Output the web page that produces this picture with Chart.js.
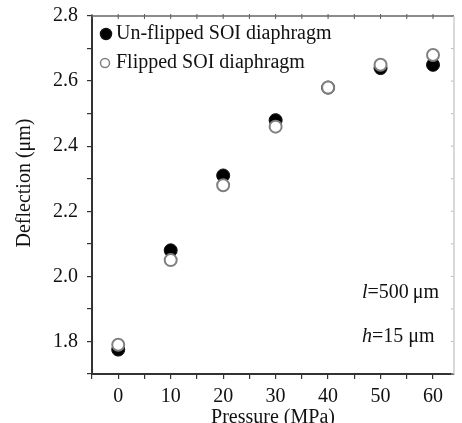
<!DOCTYPE html>
<html>
<head>
<meta charset="utf-8">
<script src="https://cdn.jsdelivr.net/npm/chart.js@4.4.0/dist/chart.umd.min.js"></script>
<style>
  html, body { margin: 0; padding: 0; background: #fff; overflow: hidden; }
  #wrap { position: relative; width: 462px; height: 423px; }
</style>
</head>
<body>
<div id="wrap"><canvas id="chart" width="462" height="423"></canvas></div>
<script>
const pressure = [0, 10, 20, 30, 40, 50, 60];
const unflipped = [1.775, 2.08, 2.31, 2.48, 2.58, 2.64, 2.65];
const flipped = [1.79, 2.05, 2.28, 2.46, 2.58, 2.65, 2.68];
const seriesLabels = ['Un-flipped SOI diaphragm', 'Flipped SOI diaphragm'];
const notes = [['l', '=500\u2009\u03bcm'], ['h', '=15 \u03bcm']];
const yTitle = 'Deflection (\u03bcm)';

const serif = 'Liberation Serif';
Chart.defaults.font.family = serif;
const toPoints = (ys) => pressure.map((x, i) => ({ x: x, y: ys[i] }));

// legend drawn inside the plot, top left, plus notes and frame
const insideLegend = {
  id: 'insideLegend',
  afterDraw(chart) {
    const ctx = chart.ctx;
    const a = chart.chartArea;
    ctx.save();
    ctx.font = '20px ' + serif;
    ctx.textBaseline = 'middle';
    ctx.fillStyle = '#111';
    const rows = [
      { ds: chart.data.datasets[1], x: a.left + 14, y: a.top + 18, r: 5.5 },
      { ds: chart.data.datasets[0], x: a.left + 13, y: a.top + 47, r: 4.5 }
    ];
    rows.forEach(row => {
      ctx.beginPath();
      ctx.arc(row.x, row.y, row.r, 0, Math.PI * 2);
      ctx.fillStyle = row.ds.backgroundColor;
      ctx.fill();
      ctx.lineWidth = 1.5;
      ctx.strokeStyle = row.ds.borderColor;
      ctx.stroke();
      ctx.fillStyle = '#111';
      ctx.fillText(row.ds.label, a.left + 24, row.y);
    });
    // l and h notes, bottom right
    notes.forEach((n, i) => {
      const x = a.left + 270;
      const y = a.top + 277 + i * 44;
      ctx.font = 'italic 20px ' + serif;
      ctx.fillText(n[0], x, y);
      const w = ctx.measureText(n[0]).width;
      ctx.font = '20px ' + serif;
      ctx.fillText(n[1], x + w, y);
    });
    // y axis title
    ctx.save();
    ctx.translate(25, 183);
    ctx.rotate(-Math.PI / 2);
    ctx.textAlign = 'center';
    ctx.font = '20px ' + serif;
    ctx.fillText(yTitle, 0, 0);
    ctx.restore();
    // short ticks on the top and right frame
    const xs = chart.scales.x, ys = chart.scales.y;
    ctx.lineWidth = 1;
    ctx.strokeStyle = '#555';
    xs.ticks.forEach(t => {
      const px = xs.getPixelForValue(t.value);
      ctx.beginPath();
      ctx.moveTo(px, a.top - 2);
      ctx.lineTo(px, a.top + 3);
      ctx.stroke();
    });
    ctx.strokeStyle = '#bbb';
    ys.ticks.forEach(t => {
      const py = ys.getPixelForValue(t.value);
      ctx.beginPath();
      ctx.moveTo(a.right - 3, py);
      ctx.lineTo(a.right, py);
      ctx.stroke();
    });
    ctx.lineWidth = 1.5;
    ctx.strokeStyle = '#666';
    ctx.beginPath();
    ctx.moveTo(a.left, a.top);
    ctx.lineTo(a.right, a.top);
    ctx.stroke();
    ctx.strokeStyle = '#ccc';
    ctx.beginPath();
    ctx.moveTo(a.right, a.top);
    ctx.lineTo(a.right, a.bottom);
    ctx.stroke();
    ctx.restore();
  }
};

const ctx = document.getElementById('chart').getContext('2d');
new Chart(ctx, {
  type: 'scatter',
  data: {
    datasets: [
      {
        label: seriesLabels[1],
        data: toPoints(flipped),
        backgroundColor: '#ffffff',
        borderColor: '#808080',
        borderWidth: 2,
        pointRadius: 6,
        order: 1
      },
      {
        label: seriesLabels[0],
        data: toPoints(unflipped),
        backgroundColor: '#000000',
        borderColor: '#111111',
        borderWidth: 1,
        pointRadius: 6.5,
        order: 2
      }
    ]
  },
  options: {
    responsive: false,
    animation: false,
    events: [],
    layout: { padding: { top: 16, right: 2, left: 0, bottom: 0 } },
    plugins: { legend: { display: false }, tooltip: { enabled: false } },
    scales: {
      x: {
        type: 'linear',
        min: -5,
        max: 64,
        afterBuildTicks: (s) => { s.ticks = s.ticks.filter(t => t.value % 5 === 0); },
        afterFit: (s) => { s.height = 49; s.paddingLeft = 0; s.paddingRight = 0; },
        grid: { drawOnChartArea: false, color: '#333', tickLength: 5, lineWidth: 1.2 },
        border: { color: '#333', width: 2 },
        ticks: {
          stepSize: 5,
          includeBounds: false,
          padding: 6,
          color: '#111',
          font: { family: serif, size: 20 },
          maxRotation: 0,
          autoSkip: false,
          callback: (v) => (v % 10 === 0 ? String(v) : '')
        },
        title: {
          display: true,
          text: 'Pressure (MPa)',
          color: '#111',
          font: { family: serif, size: 20, lineHeight: 1 },
          padding: { top: 0, bottom: -5 }
        }
      },
      y: {
        type: 'linear',
        min: 1.7,
        max: 2.8,
        afterFit: (s) => { s.width = 92; s.paddingTop = 0; s.paddingBottom = 0; },
        grid: { drawOnChartArea: false, color: '#333', tickLength: 5, lineWidth: 1.2 },
        border: { color: '#333', width: 2 },
        ticks: {
          stepSize: 0.1,
          padding: 9,
          color: '#111',
          font: { family: serif, size: 20 },
          autoSkip: false,
          callback: (v) => (Math.round(v * 10) % 2 === 0 ? v.toFixed(1) : '')
        },
        title: { display: false }
      }
    }
  },
  plugins: [insideLegend]
});
</script>
</body>
</html>
